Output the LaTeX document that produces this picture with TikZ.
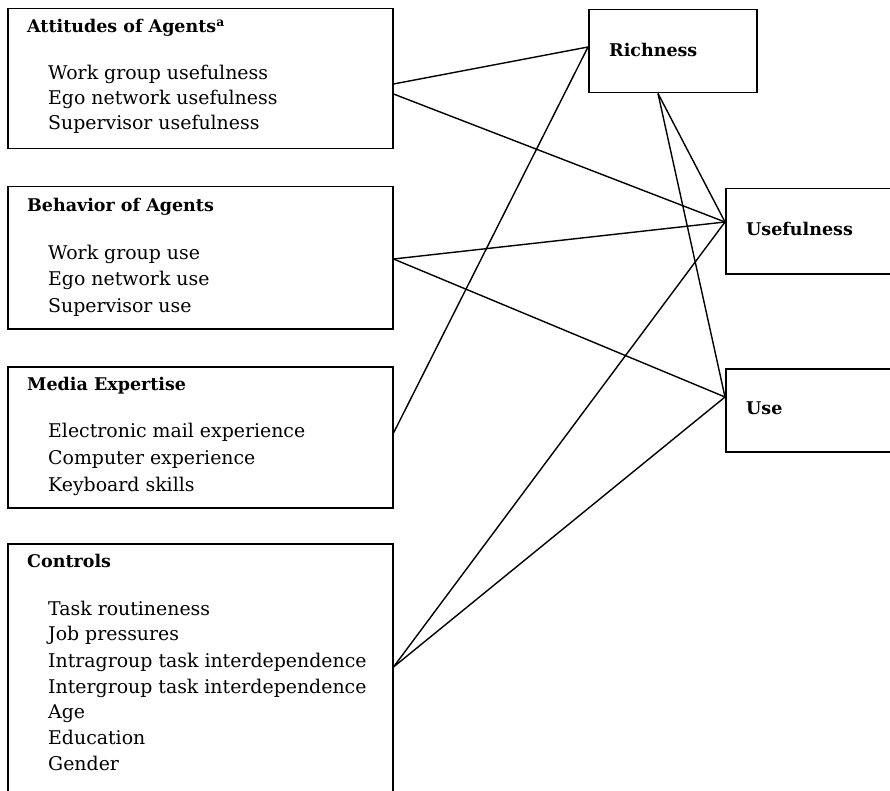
\documentclass[tikz,border=0pt]{standalone}
\usepackage{fontspec}
\setmainfont{DejaVu Serif}
\begin{document}
\begin{tikzpicture}[x=1pt,y=-1pt,
  box/.style={draw=black, line width=1.5pt, rectangle, anchor=north west, inner sep=0pt},
  ttl/.style={anchor=base west, inner sep=0pt, font=\fontsize{17.5}{20}\selectfont\bfseries},
  itm/.style={anchor=base west, inner sep=0pt, font=\fontsize{18.9}{22}\selectfont},
  link/.style={draw=black, line width=1.4pt}]
\useasboundingbox (0,0) rectangle (890,791);
\clip (0,0) rectangle (890,791);
\fill[white] (0,0) rectangle (890,791);
% left boxes
\node[box, minimum width=385pt, minimum height=140pt] (att) at (7,8) {};
\node[box, minimum width=385pt, minimum height=142pt] (beh) at (7,186) {};
\node[box, minimum width=385pt, minimum height=141pt] (med) at (7,366) {};
\node[box, minimum width=385pt, minimum height=270pt] (con) at (7,543) {};
% right boxes
\node[box, minimum width=168pt, minimum height=83pt] (rich) at (588,9) {};
\node[box, minimum width=180pt, minimum height=85pt] (usef) at (725,188) {};
\node[box, minimum width=180pt, minimum height=83pt] (use) at (725,368) {};
% texts
\node[ttl] (attT) at (27,33) {Attitudes of Agents\textsuperscript{a}};
\node[itm] (att1) at (48,80) {Work group usefulness};
\node[itm] (att2) at (48,105) {Ego network usefulness};
\node[itm] (att3) at (48,130) {Supervisor usefulness};
\node[ttl] (behT) at (27,212) {Behavior of Agents};
\node[itm] (beh1) at (48,259) {Work group use};
\node[itm] (beh2) at (48,285) {Ego network use};
\node[itm] (beh3) at (48,312) {Supervisor use};
\node[ttl] (medT) at (27,390) {Media Expertise};
\node[itm] (med1) at (48,437) {Electronic mail experience};
\node[itm] (med2) at (48,464) {Computer experience};
\node[itm] (med3) at (48,491) {Keyboard skills};
\node[ttl] (conT) at (27,567) {Controls};
\node[itm] (con1) at (48,615) {Task routineness};
\node[itm] (con2) at (48,640) {Job pressures};
\node[itm] (con3) at (48,667) {Intragroup task interdependence};
\node[itm] (con4) at (48,693) {Intergroup task interdependence};
\node[itm] (con5) at (48,718) {Age};
\node[itm] (con6) at (48,744) {Education};
\node[itm] (con7) at (48,770) {Gender};
\node[ttl] (richT) at (609,57) {Richness};
\node[ttl] (usefT) at (746,236) {Usefulness};
\node[ttl] (useT) at (746,414) {Use};
% attach points
\coordinate (attA) at ([yshift=-76pt]att.north east);
\coordinate (attB) at ([yshift=-86pt]att.north east);
\coordinate (behA) at ([yshift=-73pt]beh.north east);
\coordinate (medA) at ([yshift=-67pt]med.north east);
\coordinate (conA) at ([yshift=-124pt]con.north east);
\coordinate (richL) at ([yshift=-38pt]rich.north west);
\coordinate (richB) at ([xshift=70pt]rich.south west);
\coordinate (usefL) at ([yshift=-34pt]usef.north west);
\coordinate (useL) at ([yshift=-29pt]use.north west);
% connectors
\draw[link] (attA) -- (richL);
\draw[link] (attB) -- (usefL);
\draw[link] (behA) -- (usefL);
\draw[link] (behA) -- (useL);
\draw[link] (medA) -- (richL);
\draw[link] (conA) -- (usefL);
\draw[link] (conA) -- (useL);
\draw[link] (richB) -- (usefL);
\draw[link] (richB) -- (useL);
\end{tikzpicture}
\end{document}
